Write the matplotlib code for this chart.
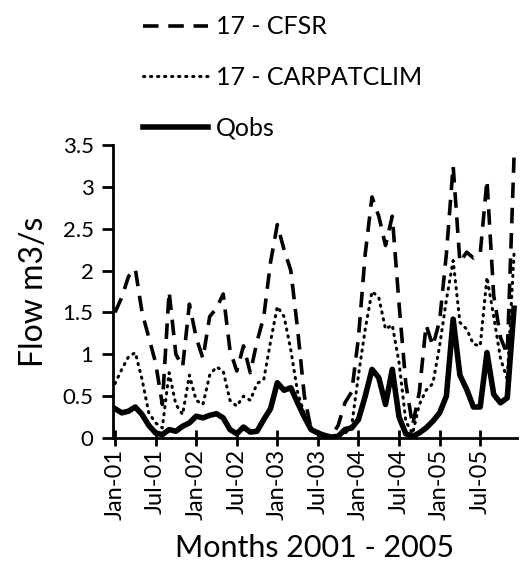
import numpy as np
import matplotlib
matplotlib.use('Agg')
import matplotlib.pyplot as plt

plt.rcParams['font.family'] = ['Lato', 'DejaVu Sans']

# monthly flow, Jan 2001 .. Dec 2005
cfsr = [1.50, 1.68, 1.93, 2.02, 1.50, 1.20, 0.90, 0.40, 1.75, 1.00, 0.85, 1.60,
        1.20, 0.95, 1.45, 1.55, 1.72, 1.05, 0.80, 1.10, 0.78, 1.15, 1.45, 2.10,
        2.55, 2.25, 2.00, 1.30, 0.50, 0.10, 0.05, 0.02, 0.02, 0.15, 0.42, 0.55,
        1.20, 2.20, 2.88, 2.65, 2.30, 2.65, 1.60, 0.65, 0.15, 0.55, 1.35, 1.10,
        1.40, 2.20, 3.25, 2.10, 2.22, 2.15, 2.20, 3.08, 1.70, 1.20, 1.00, 3.35]
carpat = [0.65, 0.82, 0.97, 1.02, 0.70, 0.30, 0.18, 0.12, 0.78, 0.40, 0.28, 0.75,
          0.45, 0.40, 0.75, 0.85, 0.80, 0.45, 0.38, 0.50, 0.45, 0.65, 0.70, 1.15,
          1.57, 1.45, 1.05, 0.55, 0.28, 0.12, 0.05, 0.02, 0.02, 0.03, 0.05, 0.15,
          0.75, 1.30, 1.75, 1.68, 1.30, 1.35, 0.90, 0.20, 0.05, 0.40, 0.57, 0.65,
          1.10, 1.65, 2.12, 1.38, 1.30, 1.12, 1.10, 1.92, 1.45, 0.95, 0.70, 2.20]
qobs = [0.35, 0.30, 0.32, 0.37, 0.28, 0.15, 0.06, 0.04, 0.10, 0.08, 0.14, 0.18,
        0.26, 0.24, 0.27, 0.29, 0.24, 0.10, 0.05, 0.13, 0.07, 0.08, 0.22, 0.35,
        0.66, 0.57, 0.60, 0.42, 0.25, 0.10, 0.06, 0.03, 0.01, 0.02, 0.10, 0.12,
        0.22, 0.50, 0.82, 0.72, 0.40, 0.82, 0.25, 0.05, 0.02, 0.06, 0.12, 0.20,
        0.30, 0.50, 1.42, 0.75, 0.58, 0.37, 0.37, 1.02, 0.52, 0.42, 0.48, 1.55]
tick_labels = ['Jan-01', 'Jul-01', 'Jan-02', 'Jul-02', 'Jan-03',
               'Jul-03', 'Jan-04', 'Jul-04', 'Jan-05', 'Jul-05']

x = np.arange(len(qobs))

fig = plt.figure(figsize=(5.23, 5.71), dpi=100)
ax = fig.add_axes([0.216, 0.233, 0.772, 0.513])

ax.plot(x, cfsr, color='black', lw=2.6, linestyle=(0, (4.3, 2.7)), label='17 - CFSR')
ax.plot(x, carpat, color='black', lw=2.2, linestyle=(0, (0.4, 1.9)),
        dash_capstyle='round', label='17 - CARPATCLIM')
ax.plot(x, qobs, color='black', lw=4, solid_joinstyle='round', label='Qobs')

ax.set_xlim(-0.3, 59.4)
ax.set_ylim(0, 3.5)
ax.set_yticks(np.arange(0, 3.51, 0.5))
ax.set_yticklabels(['0', '0.5', '1', '1.5', '2', '2.5', '3', '3.5'])
ax.set_xticks(np.arange(0, 60, 6))
ax.set_xticklabels(tick_labels, rotation=90)

for s in ['top', 'right']:
    ax.spines[s].set_visible(False)
for s in ['left', 'bottom']:
    ax.spines[s].set_linewidth(2)
ax.tick_params(axis='y', direction='out', length=8, width=2, labelsize=16, pad=6)
ax.tick_params(axis='x', direction='inout', length=12, width=2, labelsize=17, pad=2)

ax.set_ylabel('Flow m3/s', fontsize=23, labelpad=10)
ax.set_xlabel('Months 2001 - 2005', fontsize=22, labelpad=10)

ax.legend(loc='lower left', bbox_to_anchor=(0.05, 0.985), frameon=False,
          fontsize=18, handlelength=2.6, labelspacing=1.1, handletextpad=0.3,
          borderaxespad=0.0)

fig.savefig('out.png', dpi=100)
